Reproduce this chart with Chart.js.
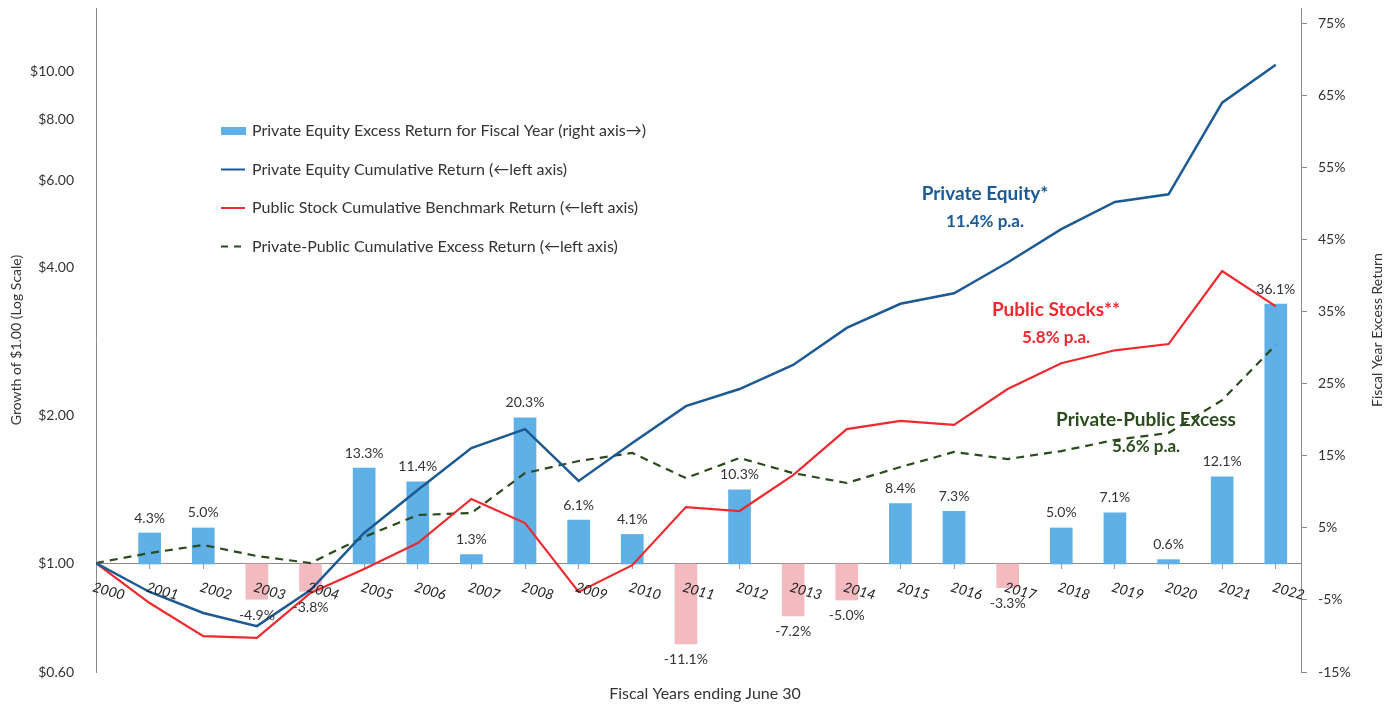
<!doctype html>
<html lang="en">
<head>
<meta charset="utf-8">
<title>Private Equity vs Public Stocks</title>
<script src="https://cdn.jsdelivr.net/npm/chart.js@4.4.1/dist/chart.umd.min.js"></script>
<style>
  html, body { margin: 0; padding: 0; background: #fff; }
  #wrap { width: 1398px; height: 706px; position: relative; }
</style>
</head>
<body>
<div id="wrap"><canvas id="chart"></canvas></div>
<script>
  // fiscal years and values
  const years = [2000, 2001, 2002, 2003, 2004, 2005, 2006, 2007, 2008, 2009, 2010, 2011,
                 2012, 2013, 2014, 2015, 2016, 2017, 2018, 2019, 2020, 2021, 2022];
  const excessReturn = [null, 4.3, 5.0, -4.9, -3.8, 13.3, 11.4, 1.3, 20.3, 6.1, 4.1, -11.1,
                        10.3, -7.2, -5.0, 8.4, 7.3, -3.3, 5.0, 7.1, 0.6, 12.1, 36.1];
  const peCumulative = [1.00, 0.873, 0.791, 0.744, 0.881, 1.151, 1.408, 1.714, 1.873, 1.469, 1.755, 2.086,
                        2.26, 2.53, 3.01, 3.37, 3.54, 4.09, 4.78, 5.43, 5.63, 8.65, 10.33];
  const publicCumulative = [1.00, 0.829, 0.710, 0.704, 0.869, 0.972, 1.098, 1.35, 1.206, 0.873, 0.99, 1.30,
                            1.276, 1.51, 1.873, 1.946, 1.91, 2.26, 2.55, 2.71, 2.79, 3.93, 3.33];
  const excessCumulative = [1.00, 1.048, 1.088, 1.033, 1.00, 1.13, 1.252, 1.264, 1.524, 1.613, 1.675, 1.489,
                            1.636, 1.524, 1.455, 1.568, 1.683, 1.628, 1.69, 1.78, 1.84, 2.145, 2.78];
  const leftTicks = [0.6, 1, 2, 4, 6, 8, 10];
  const rightTicks = [-15, -5, 5, 15, 25, 35, 45, 55, 65, 75];

  const FONT = 'Lato';
  const BLUE_BAR = '#5eb0e6';
  const PINK_BAR = '#f3bac0';
  const PE_BLUE = '#1d5a94';
  const RED = '#ee2a30';
  const GREEN = '#2b4a1e';
  const AXIS = '#8a8a8a';
  const TEXT = '#333';

  const legendItems = [
    { text: 'Private Equity Excess Return for Fiscal Year (right axis\u2192)', kind: 'box', color: BLUE_BAR },
    { text: 'Private Equity Cumulative Return (\u2190left axis)', kind: 'line', color: PE_BLUE },
    { text: 'Public Stock Cumulative Benchmark Return (\u2190left axis)', kind: 'line', color: RED },
    { text: 'Private-Public Cumulative Excess Return (\u2190left axis)', kind: 'dash', color: GREEN }
  ];

  const notes = [
    { text: 'Private Equity*', x: 985, y: 194, size: 19, color: PE_BLUE },
    { text: '11.4% p.a.', x: 985, y: 222, size: 17, color: PE_BLUE },
    { text: 'Public Stocks**', x: 1056, y: 310, size: 19, color: RED },
    { text: '5.8% p.a.', x: 1056, y: 338, size: 17, color: RED },
    { text: 'Private-Public Excess', x: 1146, y: 420, size: 19, color: GREEN },
    { text: '5.6% p.a.', x: 1146, y: 447, size: 17, color: GREEN }
  ];

  const overlay = {
    id: 'overlay',
    afterDatasetsDraw(chart) {
      const { ctx, scales: { x, y } } = chart;
      ctx.save();

      // value labels on the bars
      ctx.font = '14px ' + FONT;
      ctx.fillStyle = TEXT;
      ctx.textAlign = 'center';
      ctx.textBaseline = 'middle';
      chart.getDatasetMeta(3).data.forEach((bar, i) => {
        const v = excessReturn[i];
        if (v == null) return;
        const ty = v >= 0 ? bar.y - 15 : bar.y + 16;
        ctx.fillText(v.toFixed(1) + '%', bar.x, ty);
      });

      // slanted year labels under the axis line
      const base = y.getPixelForValue(1);
      ctx.font = 'italic 14px ' + FONT;
      ctx.fillStyle = '#222';
      ctx.textAlign = 'left';
      years.forEach(yr => {
        ctx.save();
        ctx.translate(x.getPixelForValue(yr) - 3, base + 24);
        ctx.rotate(0.27);
        ctx.fillText(String(yr), 0, 0);
        ctx.restore();
      });

      // series notes
      ctx.textAlign = 'center';
      notes.forEach(n => {
        ctx.font = 'bold ' + n.size + 'px ' + FONT;
        ctx.fillStyle = n.color;
        ctx.fillText(n.text, n.x, n.y);
      });

      // legend
      ctx.textAlign = 'left';
      ctx.font = '16px ' + FONT;
      legendItems.forEach((it, i) => {
        const ly = 131 + i * 38.5;
        ctx.fillStyle = it.color;
        ctx.strokeStyle = it.color;
        if (it.kind === 'box') {
          ctx.fillRect(221, ly - 4, 25, 8);
        } else {
          ctx.lineWidth = 2;
          ctx.setLineDash(it.kind === 'dash' ? [7, 6] : []);
          ctx.beginPath();
          ctx.moveTo(221, ly);
          ctx.lineTo(245, ly);
          ctx.stroke();
          ctx.setLineDash([]);
        }
        ctx.fillStyle = TEXT;
        ctx.fillText(it.text, 252, ly);
      });

      // axis titles
      ctx.font = '14px ' + FONT;
      ctx.fillStyle = TEXT;
      ctx.textAlign = 'center';
      ctx.save();
      ctx.translate(1377, 330);
      ctx.rotate(-Math.PI / 2);
      ctx.fillText('Fiscal Year Excess Return', 0, 0);
      ctx.restore();
      ctx.font = '16px ' + FONT;
      ctx.fillText('Fiscal Years ending June 30', 705, 694);

      ctx.restore();
    }
  };

  new Chart(document.getElementById('chart'), {
    type: 'bar',
    data: {
      labels: years,
      datasets: [
        {
          type: 'line', label: 'Private Equity Cumulative Return', data: peCumulative,
          yAxisID: 'y', borderColor: PE_BLUE, borderWidth: 2.5, pointRadius: 0, tension: 0, order: 0
        },
        {
          type: 'line', label: 'Public Stock Cumulative Benchmark Return', data: publicCumulative,
          yAxisID: 'y', borderColor: RED, borderWidth: 2.2, pointRadius: 0, tension: 0, order: 0
        },
        {
          type: 'line', label: 'Private-Public Cumulative Excess Return', data: excessCumulative,
          yAxisID: 'y', borderColor: GREEN, borderWidth: 2.2, borderDash: [8, 6], pointRadius: 0, tension: 0, order: 0
        },
        {
          type: 'bar', label: 'Private Equity Excess Return for Fiscal Year', data: excessReturn,
          yAxisID: 'y2', barThickness: 22, order: 1,
          backgroundColor: ctx => (ctx.raw < 0 ? PINK_BAR : BLUE_BAR)
        }
      ]
    },
    options: {
      responsive: true,
      maintainAspectRatio: false,
      animation: false,
      layout: { padding: { top: 8, bottom: 34, left: 0, right: 0 } },
      plugins: { legend: { display: false }, tooltip: { enabled: false } },
      scales: {
        x: {
          type: 'linear',
          offset: false,
          min: 2000,
          max: 2022.47,
          position: { y: 1 },
          afterBuildTicks: s => { s.ticks = years.map(v => ({ value: v })); },
          afterFit: s => { s.height = 0; },
          ticks: { display: false },
          grid: { display: true, offset: false, drawOnChartArea: false, drawTicks: true, tickLength: 5, color: '#999' },
          border: { display: true, color: AXIS, width: 1 }
        },
        y: {
          type: 'logarithmic',
          position: 'left',
          min: 0.6,
          max: 13.48,
          afterBuildTicks: s => { s.ticks = leftTicks.map(v => ({ value: v })); },
          afterFit: s => { s.width = 96; s.paddingTop = 0; s.paddingBottom = 0; },
          ticks: {
            callback: v => '$' + Number(v).toFixed(2),
            font: { family: FONT, size: 14 }, color: TEXT, padding: 14
          },
          grid: { display: false },
          border: { display: true, color: AXIS, width: 1 },
          title: {
            display: true, text: 'Growth of $1.00 (Log Scale)',
            font: { family: FONT, size: 14 }, color: TEXT, padding: { top: 8, bottom: 0 }
          }
        },
        y2: {
          type: 'linear',
          position: 'right',
          min: -15,
          max: 77.2,
          afterBuildTicks: s => { s.ticks = rightTicks.map(v => ({ value: v })); },
          afterFit: s => { s.width = 97; s.paddingTop = 0; s.paddingBottom = 0; },
          ticks: {
            callback: v => v + '%',
            font: { family: FONT, size: 14 }, color: TEXT, padding: 11
          },
          grid: { display: true, drawOnChartArea: false, drawTicks: true, tickLength: 6, color: AXIS },
          border: { display: true, color: AXIS, width: 1 }
        }
      }
    },
    plugins: [overlay]
  });
</script>
</body>
</html>
